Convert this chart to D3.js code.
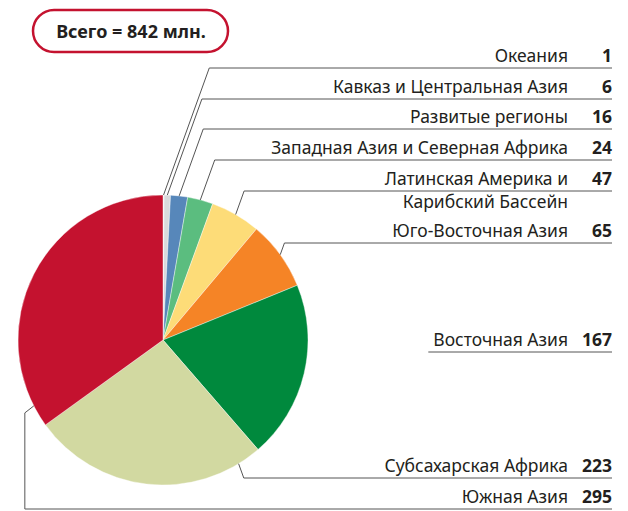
<!DOCTYPE html>
<html>
<head>
<meta charset="utf-8">
<script src="https://cdn.jsdelivr.net/npm/d3@7"></script>
<style>
  body { margin: 0; background: #fff; }
  text { font-family: "Noto Sans", "Open Sans", sans-serif; fill: #231f20; }
</style>
</head>
<body>
<script>
// data
const regions = [
    "Океания",
    "Кавказ и Центральная Азия",
    "Развитые регионы",
    "Западная Азия и Северная Африка",
    "Латинская Америка и|Карибский Бассейн",
    "Юго-Восточная Азия",
    "Восточная Азия",
    "Субсахарская Африка",
    "Южная Азия"
];
const values = [1, 6, 16, 24, 47, 65, 167, 223, 295];
const colors = ["#ececec", "#d9dadc", "#5787ba", "#5bbd7f", "#fddc78", "#f58426", "#00893d", "#d2d9a1", "#c4122f"];
const totalLabel = "Всего = 842 млн.";

// layout settings
const chartSettings = {
    width: 628,
    height: 511,
    cx: 163,
    cy: 340,
    radius: 145,
    rightEdge: 612,
    numberGap: 44,
    slope: 0.36,
    fontSize: 17.5,
};
// y of each label underline
const lineY = [68, 99, 129, 160, 191, 243, 352, 478, 509];
// where along the slice the leader leaves the pie (null = no leader)
const leaderAt = [0.5, 0.5, 0.5, 0.5, 0.5, 0.5, null, 0.1, 0.07];

const svg = d3.select("body").append("svg")
    .attr("width", chartSettings.width)
    .attr("height", chartSettings.height);

// total box
const box = svg.append("g");
box.append("rect")
    .attr("x", 33).attr("y", 10)
    .attr("width", 195).attr("height", 42)
    .attr("rx", 21)
    .attr("fill", "#fff")
    .attr("stroke", "#c4122f")
    .attr("stroke-width", 2.5);
box.append("text")
    .attr("x", 131).attr("y", 38)
    .attr("text-anchor", "middle")
    .attr("font-size", 18)
    .attr("font-weight", "bold")
    .text(totalLabel);

const data = regions.map((name, i) => ({ name, value: values[i], color: colors[i], i }));

const pie = d3.pie().sort(null).value(d => d.value);
const arcs = pie(data);
const arc = d3.arc().innerRadius(0).outerRadius(chartSettings.radius);

const pieGroup = svg.append("g")
    .attr("transform", `translate(${chartSettings.cx},${chartSettings.cy})`);

pieGroup.selectAll("path")
    .data(arcs)
    .join("path")
    .attr("d", arc)
    .attr("fill", d => d.data.color)
    .attr("stroke", "#fff")
    .attr("stroke-width", 0.4);

// labels
const labels = svg.append("g");
const { rightEdge, numberGap, slope, cx, cy, radius, fontSize } = chartSettings;

arcs.forEach((a, i) => {
    const y = lineY[i];
    const parts = a.data.name.split("|");
    const t = labels.append("text")
        .attr("x", rightEdge - numberGap)
        .attr("y", y - 6)
        .attr("text-anchor", "end")
        .attr("font-size", fontSize)
        .text(parts[0]);
    if (parts[1]) {
        labels.append("text")
            .attr("x", rightEdge - numberGap)
            .attr("y", y + 17)
            .attr("text-anchor", "end")
            .attr("font-size", fontSize)
            .text(parts[1]);
    }
    labels.append("text")
        .attr("x", rightEdge)
        .attr("y", y - 6)
        .attr("text-anchor", "end")
        .attr("font-size", fontSize)
        .attr("font-weight", "bold")
        .text(a.data.value);

    let points;
    if (leaderAt[i] === null) {
        const bb = t.node().getBBox();
        points = [[bb.x - 5, y], [rightEdge, y]];
    } else {
        const ang = a.startAngle + (a.endAngle - a.startAngle) * leaderAt[i];
        const sx = cx + radius * Math.sin(ang);
        const sy = cy - radius * Math.cos(ang);
        if (i === arcs.length - 1) {
            const ex = sx - 9;
            points = [[sx, sy], [ex, sy + 7], [ex, y], [rightEdge, y]];
        } else {
            const ex = sx + slope * Math.abs(y - sy);
            points = [[sx, sy], [ex, y], [rightEdge, y]];
        }
    }
    labels.append("path")
        .attr("d", d3.line()(points))
        .attr("fill", "none")
        .attr("stroke", "#555")
        .attr("stroke-width", 1);
});
</script>
</body>
</html>
